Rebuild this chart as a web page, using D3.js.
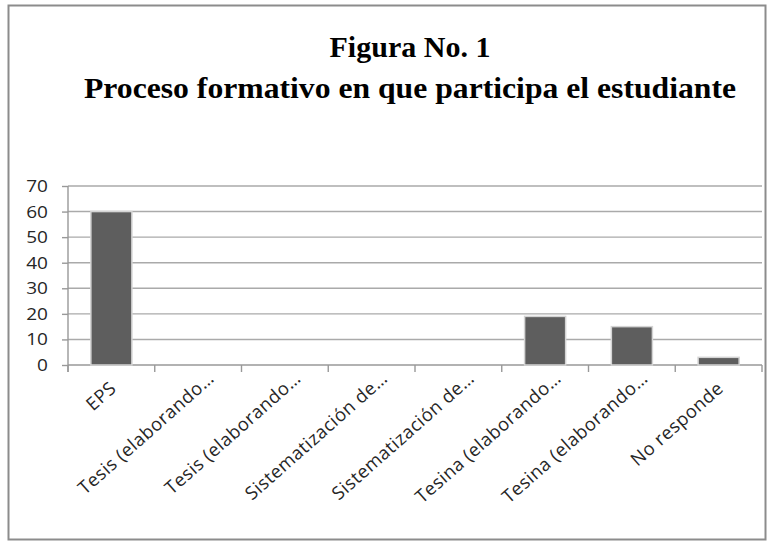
<!DOCTYPE html>
<html>
<head>
<meta charset="utf-8">
<script src="https://cdn.jsdelivr.net/npm/d3@7"></script>
<style>
  body { margin: 0; background: #fff; }
</style>
</head>
<body>
<div id="chart"></div>
<script>
// data
var categories = ["EPS", "Tesis (elaborando…", "Tesis (elaborando…", "Sistematización de…",
                  "Sistematización de…", "Tesina (elaborando…", "Tesina (elaborando…", "No responde"];
var values = [60, 0, 0, 0, 0, 19, 15, 3];
var yTicks = [0, 10, 20, 30, 40, 50, 60, 70];
var titleLines = ["Figura No. 1", "Proceso formativo en que participa el estudiante"];

var width = 774, height = 542;
var plotLeft = 68, plotRight = 762, plotTop = 186, plotBottom = 365;

var svg = d3.select('#chart').append('svg')
    .attr('width', width)
    .attr('height', height);

// outer frame
svg.append('rect')
    .attr('x', 8.5).attr('y', 5.5)
    .attr('width', 757).attr('height', 534)
    .attr('fill', '#fff')
    .attr('stroke', '#8c8c8c')
    .attr('stroke-width', 2);

// title
svg.selectAll('text.title').data(titleLines)
  .enter().append('text')
    .attr('class', 'title')
    .attr('x', 410)
    .attr('y', function (d, i) { return 57 + i * 41; })
    .attr('text-anchor', 'middle')
    .style('font-family', '"Liberation Serif", serif')
    .style('font-weight', 'bold')
    .style('font-size', '29px')
    .attr('textLength', function (d, i) { return i == 0 ? 161 : 652; })
    .attr('lengthAdjust', 'spacingAndGlyphs')
    .text(function (d) { return d; });

// scales
var yScale = d3.scaleLinear()
    .domain([0, d3.max(yTicks)])
    .range([plotBottom, plotTop]);

var xScale = d3.scaleBand()
    .domain(d3.range(categories.length))
    .range([plotLeft, plotRight])
    .paddingInner(0.527)
    .paddingOuter(0.527 / 2);

// gridlines
svg.append('g').selectAll('line').data(yTicks.slice(1))
  .enter().append('line')
    .attr('x1', plotLeft).attr('x2', plotRight)
    .attr('y1', function (d) { return yScale(d); })
    .attr('y2', function (d) { return yScale(d); })
    .attr('stroke', '#aaaaaa')
    .attr('stroke-width', 1.4);

// y axis
var yAxis = svg.append('g')
    .attr('transform', 'translate(' + plotLeft + ',0)')
    .call(d3.axisLeft(yScale).tickValues(yTicks).tickSize(6).tickPadding(13).tickFormat(d3.format('d')));
yAxis.select('.domain').attr('stroke', '#999').attr('stroke-width', 1.4)
    .attr('d', 'M0,' + plotTop + 'V' + (plotBottom + 7));
yAxis.selectAll('.tick line').attr('stroke', '#999').attr('stroke-width', 1.4);
yAxis.selectAll('.tick text')
    .attr('x', null)
    .attr('transform', 'translate(-20,0) scale(1.12,1)')
    .style('font-family', '"Open Sans", sans-serif')
    .style('font-size', '17px')
    .attr('fill', '#262626');

// x axis line + ticks at band edges
var step = xScale.step();
var xAxis = svg.append('g');
xAxis.append('line')
    .attr('x1', plotLeft).attr('x2', plotRight)
    .attr('y1', plotBottom).attr('y2', plotBottom)
    .attr('stroke', '#999').attr('stroke-width', 1.4);
xAxis.selectAll('line.tk').data(d3.range(categories.length + 1))
  .enter().append('line')
    .attr('class', 'tk')
    .attr('x1', function (i) { return plotLeft + i * step; })
    .attr('x2', function (i) { return plotLeft + i * step; })
    .attr('y1', plotBottom).attr('y2', plotBottom + 7)
    .attr('stroke', '#999').attr('stroke-width', 1.4);

// bars (zero values are not drawn)
svg.append('g').selectAll('rect')
    .data(values.map(function (v, i) { return { v: v, i: i }; }).filter(function (d) { return d.v > 0; }))
  .enter().append('rect')
    .attr('x', function (d) { return xScale(d.i); })
    .attr('width', xScale.bandwidth())
    .attr('y', function (d) { return yScale(d.v); })
    .attr('height', function (d) { return plotBottom - yScale(d.v); })
    .attr('fill', '#5e5e5e')
    .attr('stroke', '#d4d4d4')
    .attr('stroke-width', 1.5);

// rotated category labels (truncated ones sit a little further along)
var angle = 41.5;
svg.append('g').selectAll('text').data(categories)
  .enter().append('text')
    .attr('transform', function (d, i) {
        var off = d.slice(-1) == '…' ? 15 : 0;
        var a = angle * Math.PI / 180;
        var x = xScale(i) + xScale.bandwidth() / 2 + 6 + off * Math.cos(a);
        var y = 390 - off * Math.sin(a);
        return 'translate(' + x + ',' + y + ') rotate(' + (-angle) + ')';
    })
    .attr('text-anchor', 'end')
    .style('font-family', '"Open Sans", sans-serif')
    .style('font-size', '18.3px')
    .style('letter-spacing', '0.5px')
    .attr('fill', '#262626')
    .text(function (d) { return d; });
</script>
</body>
</html>
